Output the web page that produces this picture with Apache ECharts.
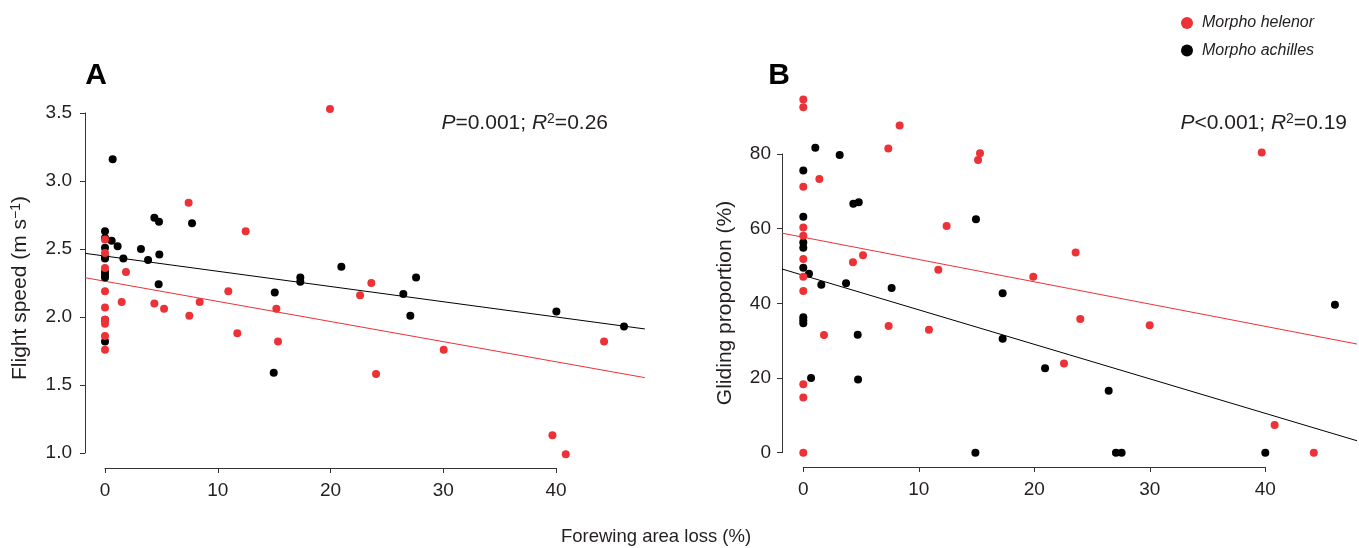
<!DOCTYPE html>
<html>
<head>
<meta charset="utf-8">
<script src="https://cdn.jsdelivr.net/npm/echarts@6/dist/echarts.min.js"></script>
<style>
html,body{margin:0;padding:0;background:#fff;}
#chart{width:1359px;height:548px;}
</style>
</head>
<body>
<div id="chart"></div>
<script>
// ---------- DATA ----------
const xTicks = [0, 10, 20, 30, 40];
const speedTicks = [1.0, 1.5, 2.0, 2.5, 3.0, 3.5];
const glideTicks = [0, 20, 40, 60, 80];

// Panel A: flight speed (m/s) vs forewing area loss (%)
const helenorA = [
  [0, 2.57], [0, 2.47], [0, 2.36], [0, 2.19], [0, 2.07], [0, 1.98], [0, 1.95], [0, 1.86], [0, 1.76],
  [1.86, 2.33], [1.48, 2.11], [4.38, 2.10], [5.24, 2.06], [7.42, 2.84], [7.48, 2.01], [8.4, 2.11],
  [10.94, 2.19], [11.74, 1.88], [12.48, 2.63], [15.2, 2.06], [15.35, 1.82], [19.96, 3.53],
  [22.63, 2.16], [23.63, 2.25], [24.05, 1.58], [30.05, 1.76], [39.7, 1.13], [40.88, 0.99], [44.28, 1.82]
];
const achillesA = [
  [0, 2.63], [0, 2.58], [0, 2.51], [0, 2.44], [0, 2.43], [0, 2.33], [0, 2.31], [0, 2.29], [0, 1.98], [0, 1.82],
  [0.68, 3.16], [0.59, 2.56], [1.12, 2.52], [1.63, 2.43], [3.19, 2.50], [3.82, 2.42], [4.38, 2.73],
  [4.79, 2.70], [4.82, 2.46], [4.76, 2.24], [7.72, 2.69], [15.06, 2.18], [14.97, 1.59],
  [17.33, 2.29], [17.33, 2.26], [20.97, 2.37], [26.47, 2.17], [27.6, 2.29], [27.09, 2.01],
  [40.05, 2.04], [46.05, 1.93]
];
const fitA_helenor = [[-1.77, 2.289], [47.9, 1.554]];
const fitA_achilles = [[-1.77, 2.468], [47.9, 1.912]];

// Panel B: gliding proportion (%) vs forewing area loss (%)
const helenorB = [
  [0, 94.6], [0, 92.5], [0, 71.2], [0, 60.3], [0, 58.1], [0, 51.9], [0, 47.1], [0, 43.3], [0, 18.3], [0, 14.8], [0, 0],
  [1.39, 73.3], [1.79, 31.5], [4.3, 51.0], [5.17, 52.9], [7.36, 81.5], [8.34, 87.6], [7.39, 33.9],
  [10.88, 32.9], [11.69, 49.0], [12.41, 60.7], [15.13, 78.4], [15.3, 80.2],
  [19.91, 47.1], [23.58, 53.6], [23.98, 35.8], [22.57, 23.9], [29.99, 34.1], [39.69, 80.4], [40.81, 7.4], [44.2, 0]
];
const achillesB = [
  [0, 75.6], [0, 63.2], [0, 56.3], [0, 54.9], [0, 49.5], [0, 36.3], [0, 35.5], [0, 34.7],
  [0.49, 47.9], [0.67, 20.0], [1.04, 81.7], [1.56, 45.0], [3.15, 79.7], [3.7, 45.4], [4.33, 66.7],
  [4.8, 67.1], [4.71, 31.6], [4.74, 19.6], [7.65, 44.1], [14.95, 62.5], [14.9, 0],
  [17.26, 42.7], [17.26, 30.5], [20.93, 22.6], [26.44, 16.6], [27.07, 0], [27.56, 0], [40.0, 0], [46.03, 39.6]
];
const fitB_helenor = [[-1.84, 58.8], [47.94, 29.1]];
const fitB_achilles = [[-1.84, 49.2], [47.94, 3.2]];

const speciesNames = ['Morpho helenor', 'Morpho achilles'];
const statA = '{i|P}=0.001; {i|R}{s|2}=0.26';
const statB = '{i|P}<0.001; {i|R}{s|2}=0.19';

// ---------- STYLE ----------
const RED = '#ec3237';
const BLACK = '#000000';
const AX = '#333333';
const TXT = '#231f20';
const FONT = 'Liberation Sans, Arial, Helvetica, sans-serif';

const hiddenAxis = (min, max) => ({ type: 'value', min, max, show: false });
const visAxisCommon = {
  axisLine: { show: true, lineStyle: { color: AX, width: 1 } },
  axisTick: { show: true, length: 5, lineStyle: { color: AX, width: 1 } },
  splitLine: { show: false },
  axisLabel: { color: TXT, fontSize: 19, fontFamily: FONT, margin: 13 }
};

const chart = echarts.init(document.getElementById('chart'), null, { renderer: 'canvas' });

const scatter = (name, data, xi, yi, color, z) => ({
  name, type: 'scatter', data, xAxisIndex: xi, yAxisIndex: yi,
  symbol: 'circle', symbolSize: 8, clip: false, z,
  itemStyle: { color, opacity: 1 }, emphasis: { disabled: true }, silent: true
});
const fit = (name, data, xi, yi, color) => ({
  name, type: 'line', data, xAxisIndex: xi, yAxisIndex: yi, showSymbol: false, symbol: 'none',
  clip: false, lineStyle: { color, width: 1 }, z: 1, silent: true, animation: false
});

const richStat = {
  i: { fontStyle: 'italic', fontSize: 21, fontFamily: FONT, fill: TXT },
  s: { fontSize: 14, fontFamily: FONT, verticalAlign: 'top', fill: TXT }
};

const option = {
  animation: false,
  backgroundColor: '#ffffff',
  legend: {
    data: speciesNames,
    orient: 'vertical',
    left: 1176, top: 10,
    itemWidth: 12, itemHeight: 12, itemGap: 11.6,
    icon: 'circle',
    textStyle: { fontSize: 16, fontStyle: 'italic', fontFamily: FONT, color: TXT, padding: [0, 0, 0, 4] },
    selectedMode: false
  },
  grid: [
    { left: 85, top: 113, width: 561, height: 340 },        // 0 data A
    { left: 105, top: 113, width: 451, height: 355 },       // 1 x-axis A
    { left: 85, top: 113, width: 100, height: 340 },        // 2 y-axis A
    { left: 782, top: 79.3, width: 575.7, height: 373.4 },  // 3 data B
    { left: 803.3, top: 154, width: 462, height: 313 },     // 4 x-axis B
    { left: 782, top: 154, width: 100, height: 298.7 }      // 5 y-axis B
  ],
  xAxis: [
    Object.assign(hiddenAxis(-1.775, 48), { gridIndex: 0 }),
    Object.assign({ type: 'value', gridIndex: 1, min: xTicks[0], max: xTicks[xTicks.length - 1], interval: 10 }, visAxisCommon),
    Object.assign(hiddenAxis(0, 1), { gridIndex: 2 }),
    Object.assign(hiddenAxis(-1.844, 48), { gridIndex: 3 }),
    Object.assign({ type: 'value', gridIndex: 4, min: xTicks[0], max: xTicks[xTicks.length - 1], interval: 10 }, visAxisCommon),
    Object.assign(hiddenAxis(0, 1), { gridIndex: 5 })
  ],
  yAxis: [
    Object.assign(hiddenAxis(1, 3.5), { gridIndex: 0 }),
    Object.assign(hiddenAxis(0, 1), { gridIndex: 1 }),
    Object.assign({ type: 'value', gridIndex: 2, min: speedTicks[0], max: speedTicks[speedTicks.length - 1], interval: 0.5 }, visAxisCommon,
      { axisLabel: Object.assign({}, visAxisCommon.axisLabel, { formatter: v => v.toFixed(1), margin: 13 }) }),
    Object.assign(hiddenAxis(0, 100), { gridIndex: 3 }),
    Object.assign(hiddenAxis(0, 1), { gridIndex: 4 }),
    Object.assign({ type: 'value', gridIndex: 5, min: glideTicks[0], max: glideTicks[glideTicks.length - 1], interval: 20 }, visAxisCommon,
      { axisLabel: Object.assign({}, visAxisCommon.axisLabel, { margin: 11 }) })
  ],
  series: [
    fit('fitA_h', fitA_helenor, 0, 0, RED),
    fit('fitA_a', fitA_achilles, 0, 0, BLACK),
    scatter(speciesNames[1], achillesA, 0, 0, BLACK, 2),
    scatter(speciesNames[0], helenorA, 0, 0, RED, 3),
    fit('fitB_h', fitB_helenor, 3, 3, RED),
    fit('fitB_a', fitB_achilles, 3, 3, BLACK),
    scatter(speciesNames[1], achillesB, 3, 3, BLACK, 2),
    scatter(speciesNames[0], helenorB, 3, 3, RED, 3)
  ],
  graphic: [
    { type: 'text', x: 96, y: 76, style: { text: 'A', font: 'bold 30px ' + FONT, fill: '#000', align: 'center', verticalAlign: 'middle' } },
    { type: 'text', x: 779, y: 76, style: { text: 'B', font: 'bold 30px ' + FONT, fill: '#000', align: 'center', verticalAlign: 'middle' } },
    { type: 'text', x: 608, y: 123, style: { text: statA, rich: richStat, fontSize: 21, fontFamily: FONT, fill: TXT, align: 'right', verticalAlign: 'middle' } },
    { type: 'text', x: 1347, y: 123, style: { text: statB, rich: richStat, fontSize: 21, fontFamily: FONT, fill: TXT, align: 'right', verticalAlign: 'middle' } },
    { type: 'text', x: 656, y: 537, style: { text: 'Forewing area loss (%)', fontSize: 18.5, fontFamily: FONT, fill: TXT, align: 'center', verticalAlign: 'middle' } },
    { type: 'text', x: 20, y: 288, rotation: Math.PI / 2,
      style: { text: 'Flight speed (m s{s|−1})', rich: { s: { fontSize: 14, fontFamily: FONT, verticalAlign: 'top', fill: TXT } },
               fontSize: 21, fontFamily: FONT, fill: TXT, align: 'center', verticalAlign: 'middle' } },
    { type: 'text', x: 725, y: 303, rotation: Math.PI / 2,
      style: { text: 'Gliding proportion (%)', fontSize: 21, fontFamily: FONT, fill: TXT, align: 'center', verticalAlign: 'middle' } }
  ]
};
chart.setOption(option);
</script>
</body>
</html>
